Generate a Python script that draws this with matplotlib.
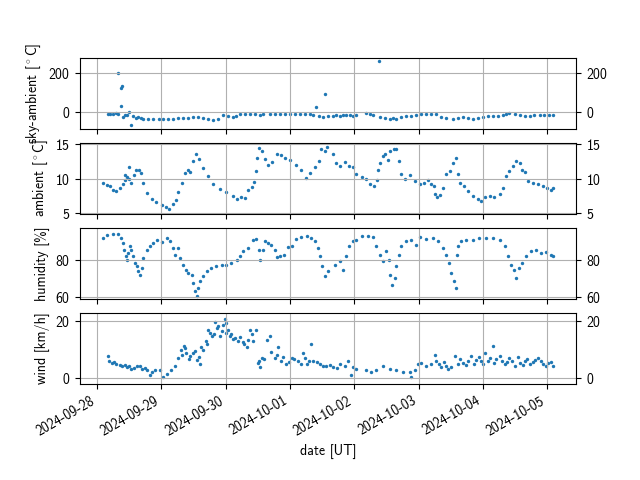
import numpy as np
import pandas as pd
import matplotlib
matplotlib.use("Agg")
import matplotlib.pyplot as plt
import matplotlib.dates as mdates

plt.rcParams['font.family'] = ['cmss10', 'DejaVu Sans']
plt.rcParams['mathtext.fontset'] = 'cm'
plt.rcParams['axes.formatter.use_mathtext'] = True
plt.rcParams['axes.unicode_minus'] = False

# hours since 2024-09-28 00:00 UT
sky_h = [4.2, 5.0, 6.1, 7.0, 7.9, 8.8, 9.4, 8.9, 7.9, 9.8, 10.5, 11.1, 12.0, 12.7, 13.5, 14.5,
         15.4, 16.3, 17.3, 19.0, 21.0, 23.0, 24.7, 26.5, 28.4, 30.3, 32.2, 34.0, 35.9, 37.8,
         39.6, 41.5, 43.3, 45.2, 47.1, 49.0, 50.8, 52.0, 53.3, 55.2, 57.0, 59.0, 60.8, 61.8,
         64.5, 66.3, 68.2, 70.0, 71.9, 73.8, 75.7, 77.5, 79.4, 80.6, 81.9, 85.0, 82.8, 84.3,
         86.2, 88.1, 89.3, 90.5, 91.8, 93.0, 94.3, 95.5, 96.8, 100.5, 101.8, 103.0, 105.2,
         105.5, 107.3, 109.2, 110.5, 111.7, 113.5, 115.4, 117.3, 119.2, 121.0, 122.9, 124.7,
         126.6, 128.5, 130.3, 132.8, 134.6, 136.5, 138.4, 140.3, 142.1, 144.0, 145.8, 147.7,
         149.5, 151.4, 152.7, 153.9, 155.8, 157.7, 159.5, 161.4, 163.2, 165.1, 166.8, 168.5,
         170.1]
sky_v = [-7, -12, -12, -5, 203, 125, 137, 32, -7, -25, -14, -16, 2, -68, -21, -30,
         -25, -30, -33, -33, -33, -35, -33, -35, -33, -31, -30, -28, -25, -27,
         -30, -34, -39, -33, -16, -20, -25, -18, -11, -9, -7, -10, -16, -12,
         -7, -8, -7, -9, -7, -8, -11, -10, -12, -14, 25, 95, -20, -25,
         -18, -21, -16, -20, -16, -14, -16, -18, -16, -4, -12, -16, 265,
         -25, -30, -33, -28, -33, -25, -21, -18, -16, -12, -7, -9,
         -11, -25, -28, -33, -30, -25, -30, -33, -28, -25, -22, -21,
         -18, -16, -10, -4, -12, -16, -18, -21, -15, -16, -14, -16,
         -16]

amb_h = [2.1, 3.6, 4.8, 6.1, 7.3, 8.6, 9.6, 10.4, 10.4, 11.3, 12.0, 12.0, 12.9, 13.8, 14.5,
         15.8, 16.6, 17.3, 18.5, 20.4, 22.2, 24.1, 25.7, 26.9, 28.2, 29.4, 30.4, 31.6, 32.8,
         34.0, 34.9, 35.9, 36.9, 38.1, 39.6, 41.5, 43.3, 45.8, 48.3, 50.8, 52.3, 53.9, 55.2,
         56.4, 57.7, 58.5, 59.3, 59.9, 60.5, 61.4, 62.6, 63.9, 65.3, 67.0, 68.5, 70.1, 71.9,
         74.4, 76.3, 77.9, 79.4, 81.3, 82.9, 83.7, 85.0, 85.8, 88.1, 89.3, 90.8, 92.4, 93.9,
         95.5, 96.8, 98.7, 100.5, 102.0, 103.2, 104.3, 104.9, 105.7, 106.7, 107.6, 108.5,
         109.5, 110.7, 111.7, 112.6, 113.6, 114.8, 116.7, 118.5, 120.4, 121.9, 123.5, 124.7,
         125.6, 126.1, 126.8, 127.8, 129.1, 130.3, 131.6, 132.8, 133.8, 134.7, 135.5, 136.8,
         138.4, 140.3, 142.1, 143.4, 144.9, 146.5, 148.3, 150.2, 151.4, 152.7, 153.9, 155.2,
         156.4, 157.7, 158.5, 159.5, 160.8, 162.6, 164.5, 166.3, 167.8, 169.5, 170.3]
amb_v = [9.3, 9.1, 8.9, 8.4, 8.2, 8.6, 9.2, 9.8, 10.5, 10.2, 11.6, 10.0, 9.3, 10.5, 11.2,
         11.3, 10.8, 9.3, 7.9, 7.1, 6.6, 6.2, 5.9, 5.6, 6.3, 6.9, 8.0, 9.4, 10.8,
         11.2, 11.0, 12.5, 13.6, 12.8, 11.5, 10.3, 9.2, 8.5, 8.0, 7.5, 7.0, 7.4, 7.2,
         8.4, 8.8, 9.5, 11.1, 13.0, 14.4, 13.9, 12.8, 12.0, 12.4, 13.6, 13.4, 13.0, 12.6,
         12.0, 11.3, 10.1, 10.8, 11.6, 12.5, 14.2, 14.0, 14.6, 13.5, 12.2, 11.8, 12.4, 11.8,
         11.6, 10.6, 10.2, 10.0, 9.2, 9.0, 9.8, 11.3, 12.2, 13.2, 13.6, 12.6,
         14.0, 14.3, 14.3, 12.5, 10.6, 9.9, 10.5, 9.7, 9.2, 9.4, 9.8, 9.2,
         9.0, 7.8, 7.3, 7.6, 8.7, 10.6, 11.1, 12.3, 12.9, 10.6, 9.4, 9.0,
         8.2, 7.5, 7.0, 6.8, 7.3, 7.5, 7.4, 7.8, 8.7, 10.4, 11.1, 11.8,
         12.5, 12.2, 11.3, 10.9, 9.7, 9.4, 9.2, 9.0, 8.6, 8.4, 8.6]

hum_h = [2.1, 3.6, 6.1, 7.9, 8.8, 9.6, 10.2, 10.7, 11.1, 11.7, 12.3, 12.9, 13.5, 14.2, 14.8,
         15.4, 16.0, 16.7, 17.3, 18.5, 19.8, 21.0, 22.3, 24.1, 26.0, 27.2, 28.2, 29.1, 30.3,
         30.9, 32.2, 33.2, 34.0, 35.3, 35.9, 36.5, 37.2, 37.8, 38.6, 39.6, 40.9, 42.7, 44.6,
         46.5, 48.3, 50.2, 52.1, 53.3, 54.5, 56.4, 58.3, 59.5, 60.5, 61.0, 61.8, 62.6, 63.9,
         65.1, 66.3, 67.2, 68.2, 69.7, 71.3, 72.6, 74.4, 76.3, 78.2, 80.0, 81.3, 82.5, 83.1,
         84.0, 85.0, 86.2, 88.7, 90.6, 91.8, 92.8, 94.0, 95.5, 96.8, 98.7, 101.1, 103.0,
         104.2, 105.5, 106.7, 108.0, 108.9, 109.5, 110.2, 111.1, 111.7, 112.6, 113.6, 115.4,
         117.3, 118.9, 120.6, 122.9, 125.3, 127.2, 129.1, 130.3, 131.3, 132.2, 133.1, 133.8,
         134.3, 134.7, 135.9, 137.8, 140.3, 142.7, 145.2, 147.7, 150.2, 152.1, 153.3, 154.3,
         155.4, 156.4, 157.4, 158.7, 160.2, 162.0, 163.9, 165.7, 167.6, 169.5, 170.3]
hum_v = [91.6, 93.4, 93.9, 93.8, 91.6, 88.9, 85.4, 81.8, 80.0, 83.6, 87.1, 85.4, 81.8, 78.2, 76.4,
         73.8, 72.0, 75.5, 80.9, 85.4, 87.1, 88.9, 90.4, 89.3, 91.6, 89.8, 86.3, 82.7, 86.3,
         80.9, 77.3, 74.6, 72.9, 72.0, 67.5, 63.0, 60.4, 64.8, 68.4, 71.1, 73.8, 75.5, 76.4,
         77.3, 77.3, 78.2, 79.6, 81.8, 84.5, 86.3, 90.4, 91.1, 85.4, 80.0, 85.4, 89.8, 88.9,
         88.0, 85.4, 81.4, 81.8, 82.7, 86.8, 87.1, 91.1, 92.1, 92.9, 91.6, 89.8, 86.3, 81.8,
         76.4, 71.1, 73.8, 77.3, 79.1, 74.6, 81.8, 87.1, 89.8, 90.7, 92.9, 92.9, 92.1,
         87.1, 82.7, 79.1, 84.5, 80.0, 72.0, 66.6, 70.2, 76.4, 82.7, 87.1, 89.8,
         90.7, 88.0, 92.1, 91.1, 91.6, 89.8, 86.3, 82.7, 78.2, 72.9, 68.4, 64.8,
         82.7, 87.1, 89.8, 90.7, 90.4, 91.6, 91.6, 91.6, 90.7, 87.1, 81.8, 77.3,
         74.6, 70.2, 75.5, 78.2, 81.8, 84.5, 85.0, 83.6, 84.0, 82.7, 82.1]

wind_h = [4.2, 4.6, 5.5, 6.5, 7.3, 8.5, 9.2, 10.5, 11.1, 12.0, 12.9, 14.0, 14.8, 16.0, 16.7,
          18.0, 18.5, 19.8, 20.5, 21.6, 23.5, 24.7, 26.2, 27.5, 29.1, 30.3, 31.2, 31.8, 32.4,
          33.0, 33.4, 34.2, 34.7, 35.9, 36.5, 37.2, 38.0, 38.4, 39.0, 39.6, 40.6, 41.0, 41.5,
          42.0, 42.8, 43.5, 44.0, 44.8, 45.0, 45.8, 46.5, 47.1, 47.7, 48.0, 48.3, 49.0, 49.6,
          50.2, 50.8, 51.5, 52.7, 53.5, 54.5, 55.0, 55.8, 56.5, 57.0, 58.0, 58.3, 59.3, 60.1,
          60.5, 60.8, 61.4, 62.5, 63.5, 64.5, 65.1, 66.3, 67.0, 67.6, 68.8, 69.5, 70.7, 71.5,
          72.6, 73.5, 75.0, 76.0, 76.9, 77.5, 78.2, 79.0, 80.0, 80.6, 82.0, 83.1, 84.5, 85.6,
          87.0, 88.1, 89.5, 90.6, 92.4, 93.7, 94.9, 95.5, 96.8, 100.5, 102.4, 104.2, 106.7,
          109.2, 111.7, 114.2, 116.7, 117.3, 118.5, 119.8, 121.0, 122.9, 124.7, 126.0, 126.6,
          127.5, 128.5, 129.5, 130.3, 131.0, 132.2, 133.4, 134.7, 135.5, 136.5, 137.5, 138.4,
          139.7, 140.5, 141.5, 142.5, 143.4, 144.0, 144.6, 145.8, 146.5, 147.7, 148.3, 149.0,
          150.2, 151.0, 152.1, 153.0, 153.9, 155.0, 155.8, 157.0, 157.7, 159.0, 159.5, 160.5,
          161.4, 162.5, 163.3, 164.5, 165.5, 166.3, 167.5, 168.2, 169.5, 170.1]
wind_v = [7.6, 5.9, 5.3, 5.5, 4.8, 4.5, 4.2, 4.5, 3.7, 4.0, 3.1, 3.5, 4.2, 4.0, 3.1,
          3.5, 2.6, 0.9, 2.0, 2.6, 2.6, 0.3, 1.4, 2.6, 4.2, 7.0, 9.8, 8.0, 11.4,
          10.5, 8.7, 6.5, 7.6, 8.7, 9.5, 6.4, 7.5, 4.8, 11.0, 9.8, 13.1, 12.0, 17.0,
          16.0, 14.8, 15.5, 19.8, 17.6, 18.5, 14.8, 16.5, 18.7, 20.9, 19.5, 15.9, 17.0, 14.8,
          15.5, 13.7, 14.0, 13.1, 14.5, 12.6, 12.0, 10.9, 13.5, 17.0, 15.5, 13.1, 17.0, 5.3,
          6.0, 3.7, 7.0, 6.5, 13.5, 14.8, 9.2, 7.0, 8.0, 10.9, 5.9, 7.5, 4.8, 5.5,
          7.0, 6.5, 5.9, 5.0, 8.7, 7.0, 4.8, 6.0, 12.0, 5.9, 5.5, 4.8, 4.0, 4.2,
          4.5, 3.7, 3.5, 4.8, 4.2, 5.9, 0.9, 3.7, 3.1, 2.6, 2.0, 2.6, 4.2,
          3.1, 2.6, 2.0, 2.0, 0.3, 2.6, 4.8, 5.3, 4.2, 4.8, 8.1, 5.9,
          5.0, 3.7, 5.5, 4.2, 3.0, 3.7, 7.6, 4.8, 6.5, 5.3, 4.5, 5.9,
          7.6, 5.0, 6.4, 7.5, 5.9, 5.0, 8.7, 5.9, 7.0, 11.1, 5.3, 6.5,
          7.6, 6.0, 4.8, 5.5, 7.0, 6.0, 4.2, 7.5, 5.3, 4.5, 5.9, 6.5,
          4.8, 5.5, 6.4, 7.0, 6.0, 4.8, 4.0, 5.3, 5.5, 4.2]

start = pd.Timestamp('2024-09-28 00:00')


def to_time(hours):
    return start + pd.to_timedelta(np.asarray(hours), unit='h')


series = [
    (sky_h, sky_v, r'sky-ambient [$^\circ$C]', None, [0, 200]),
    (amb_h, amb_v, r'ambient [$^\circ$C]', (4.95, 15.15), [5, 10, 15]),
    (hum_h, hum_v, 'humidity [%]', (59, 97), [60, 80]),
    (wind_h, wind_v, 'wind [km/h]', (-2.3, 23), [0, 20]),
]

fig, axs = plt.subplots(4, 1, sharex=True, figsize=(6.4, 4.8))
for ax, (h, v, label, lim, ticks) in zip(axs, series):
    ax.scatter(to_time(h), v, s=6, color='tab:blue', linewidths=0)
    ax.set_ylabel(label)
    if lim is not None:
        ax.set_ylim(lim)
    ax.set_yticks(ticks)
    ax.grid(True)
    ax.tick_params(axis='y', right=True, labelright=True)

axs[-1].xaxis.set_major_locator(mdates.DayLocator())
axs[-1].xaxis.set_major_formatter(mdates.DateFormatter('%Y-%m-%d'))
axs[-1].set_xlabel('date [UT]')
fig.autofmt_xdate()

fig.savefig('out.png', dpi=100)
